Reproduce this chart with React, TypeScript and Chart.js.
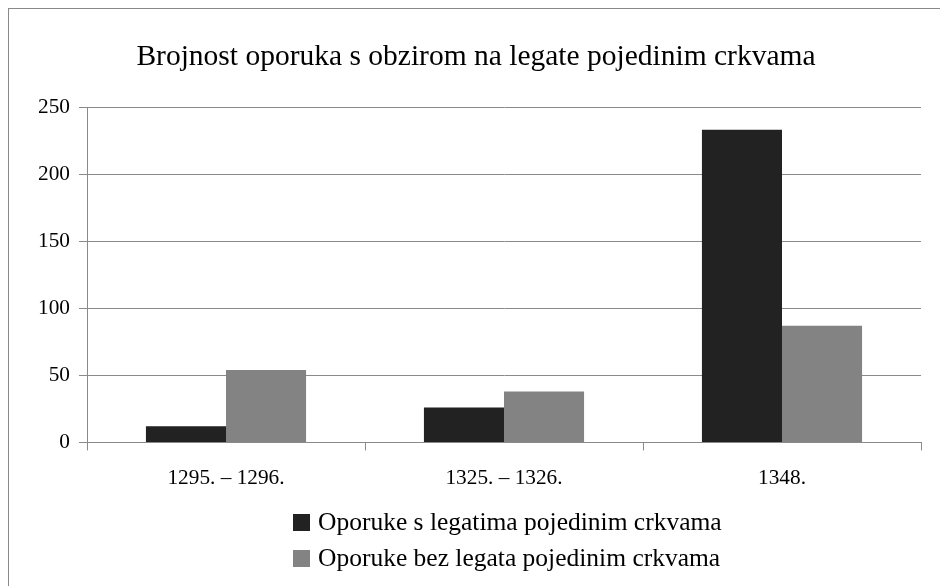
import React, { useEffect, useRef } from "react";
import { Chart, registerables } from "chart.js";

Chart.register(...registerables);

const title = "Brojnost oporuka s obzirom na legate pojedinim crkvama";
const categories = ["1295. – 1296.", "1325. – 1326.", "1348."];
const seriesNames = [
  "Oporuke s legatima pojedinim crkvama",
  "Oporuke bez legata pojedinim crkvama",
];
const withLegates = [12, 26, 233];
const withoutLegates = [54, 38, 87];
const seriesColors = ["#222222", "#838383"];
const yMin = 0;
const yMax = 250;
const yStep = 50;

const FONT = "'Liberation Serif', 'Times New Roman', serif";
const GRID = "#8a8a8a";

export default function App() {
  const ref = useRef<HTMLCanvasElement | null>(null);

  useEffect(() => {
    document.documentElement.style.overflow = "hidden";
    document.body.style.overflow = "hidden";
    if (!ref.current) return;
    const chart = new Chart(ref.current, {
      type: "bar",
      data: {
        labels: categories,
        datasets: [
          {
            label: seriesNames[0],
            data: withLegates,
            backgroundColor: seriesColors[0],
            borderWidth: 0,
            categoryPercentage: 0.576,
            barPercentage: 1,
          },
          {
            label: seriesNames[1],
            data: withoutLegates,
            backgroundColor: seriesColors[1],
            borderWidth: 0,
            categoryPercentage: 0.576,
            barPercentage: 1,
          },
        ],
      },
      options: {
        responsive: false,
        animation: false,
        layout: { padding: { left: 22, right: 22, top: 0, bottom: 0 } },
        plugins: {
          legend: { display: false },
          tooltip: { enabled: false },
          title: {
            display: true,
            text: title,
            color: "#000",
            font: { family: FONT, size: 29.5, weight: "normal", lineHeight: 1.2 },
            padding: { top: 30.3, bottom: 32.3 },
          },
        },
        scales: {
          x: {
            grid: {
              offset: true,
              drawOnChartArea: false,
              drawTicks: true,
              tickLength: 8,
              color: GRID,
            },
            border: { color: GRID, width: 1 },
            ticks: {
              color: "#000",
              padding: 15,
              font: { family: FONT, size: 21.3, lineHeight: 1.2 },
              maxRotation: 0,
            },
          },
          y: {
            min: yMin,
            max: yMax,
            afterFit: (scale: any) => {
              scale.width = 56;
            },
            grid: {
              color: GRID,
              tickLength: 8,
              drawTicks: true,
            },
            border: { color: GRID, width: 1 },
            ticks: {
              stepSize: yStep,
              color: "#000",
              padding: 9,
              font: { family: FONT, size: 21.3, lineHeight: 1.2 },
            },
          },
        },
      },
    });
    return () => chart.destroy();
  }, []);

  return (
    <div
      style={{
        position: "relative",
        width: 960,
        height: 600,
        border: "1px solid #898989",
        background: "#fff",
      }}
    >
      <canvas
        ref={ref}
        width={934}
        height={497}
        style={{ position: "absolute", left: 0, top: 0, width: 934, height: 497 }}
      />
      <div
        style={{
          position: "absolute",
          left: 284,
          top: 495,
          fontFamily: FONT,
          fontSize: 25.5,
          color: "#000",
        }}
      >
        {seriesNames.map((name, i) => (
          <div
            key={name}
            style={{ display: "flex", alignItems: "center", height: 36, whiteSpace: "nowrap" }}
          >
            <span
              style={{
                display: "inline-block",
                width: 17,
                height: 17,
                background: seriesColors[i],
                marginRight: 8,
              }}
            />
            <span>{name}</span>
          </div>
        ))}
      </div>
    </div>
  );
}
